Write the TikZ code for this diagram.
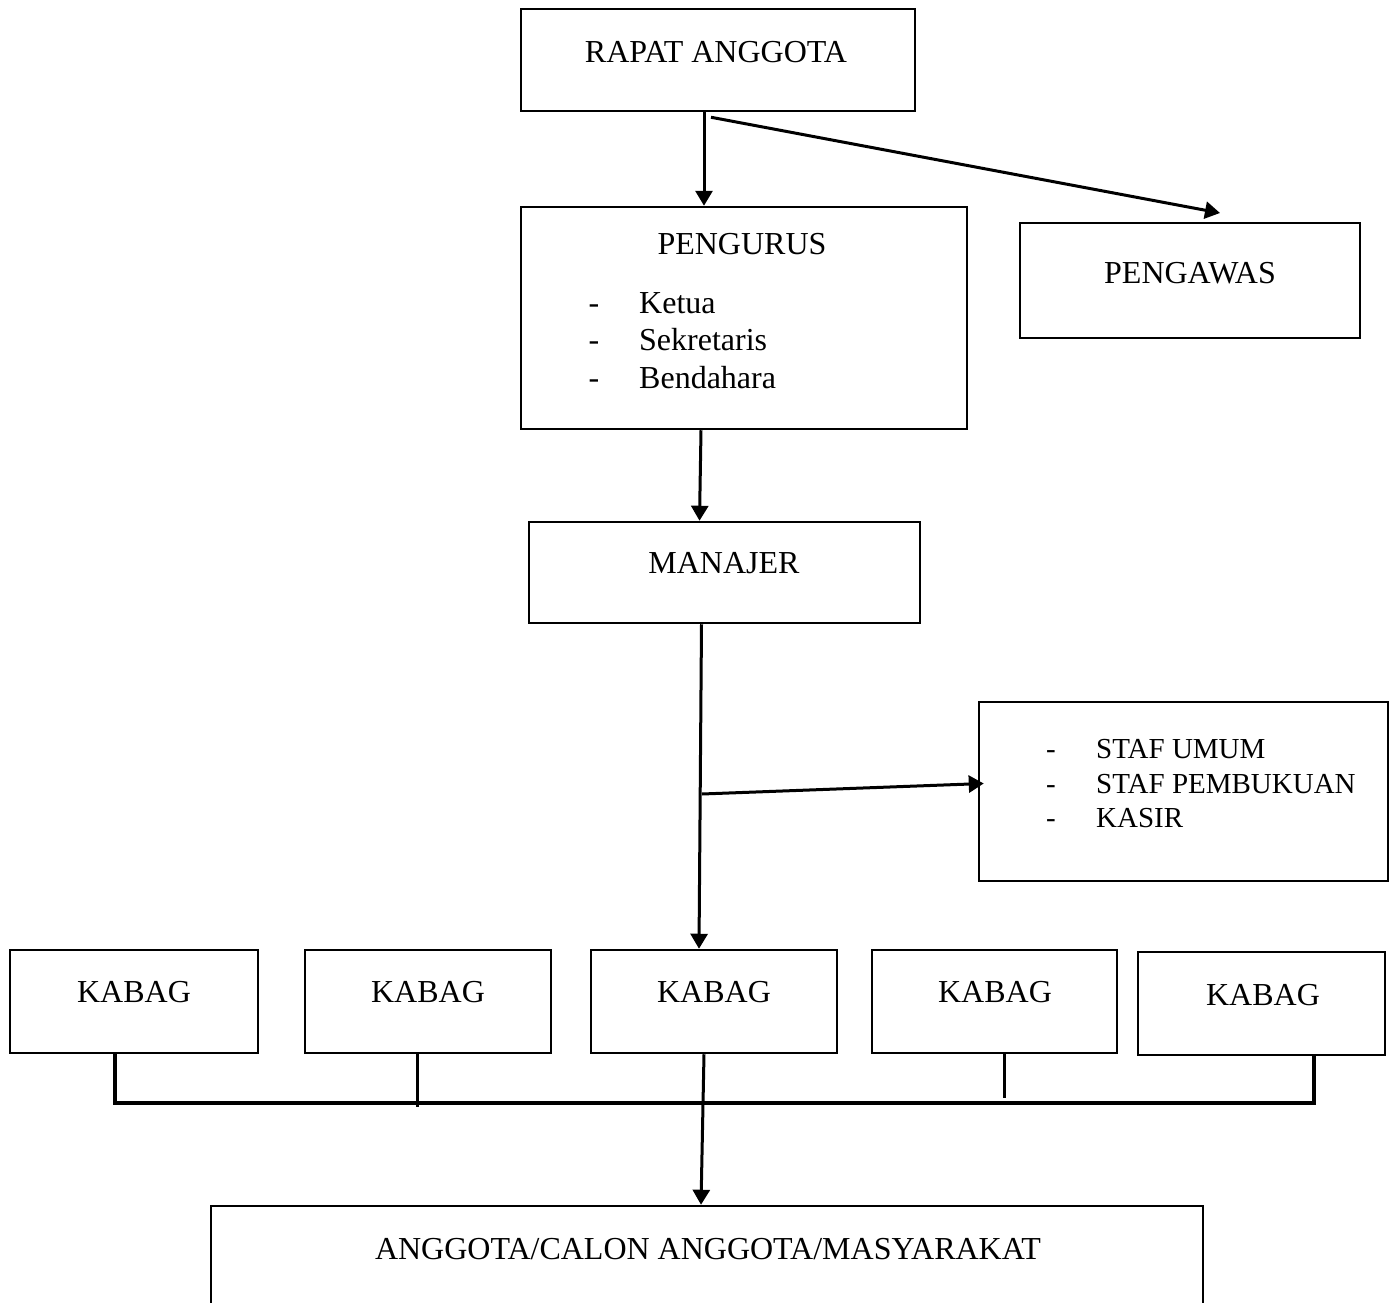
\documentclass[tikz,border=0pt]{standalone}
\usepackage{fontspec}
\setmainfont{Liberation Serif}
\usetikzlibrary{arrows.meta}

\tikzset{
  kotak/.style={draw, line width=2.5pt, inner sep=0pt},
  panah/.style={->, line width=3pt},
  garis/.style={line width=3pt},
  judul/.style={inner sep=0pt, font=\fontsize{32}{38}\selectfont},
  isi/.style={inner sep=0pt, font=\fontsize{29}{34}\selectfont}
}

\begin{document}
\begin{tikzpicture}[x=1pt,y=-1pt,>={Triangle[length=15pt,width=17pt]}]
\useasboundingbox (0,0) rectangle (1390,1303);
\clip (0,0) rectangle (1390,1303);

% kotak
\node[kotak,minimum width=394pt,minimum height=102pt] (rapat) at (718,60) {};
\node[kotak,minimum width=446pt,minimum height=222pt] (pengurus) at (744,318) {};
\node[kotak,minimum width=340pt,minimum height=115pt] (pengawas) at (1190,280.5) {};
\node[kotak,minimum width=391pt,minimum height=101pt] (manajer) at (724.5,572.5) {};
\node[kotak,minimum width=409pt,minimum height=179pt] (staf) at (1183.5,791.5) {};
\node[kotak,minimum width=248pt,minimum height=103pt] (kabag1) at (134,1001.5) {};
\node[kotak,minimum width=246pt,minimum height=103pt] (kabag2) at (428,1001.5) {};
\node[kotak,minimum width=246pt,minimum height=103pt] (kabag3) at (714,1001.5) {};
\node[kotak,minimum width=245pt,minimum height=103pt] (kabag4) at (994.5,1001.5) {};
\node[kotak,minimum width=247pt,minimum height=103pt] (kabag5) at (1261.5,1003.5) {};
\node[kotak,minimum width=992pt,minimum height=124pt] (anggota) at (707,1268) {};

% teks
\node[judul] (rapat-teks) at (716,52) {RAPAT ANGGOTA};
\node[judul] (pengurus-teks) at (742,244) {PENGURUS};
\node[judul,anchor=base] (strip1) at (594,313) {-};
\node[judul,anchor=base west] (ketua) at (639,313) {Ketua};
\node[judul,anchor=base] (strip2) at (594,350) {-};
\node[judul,anchor=base west] (sekretaris) at (639,350) {Sekretaris};
\node[judul,anchor=base] (strip3) at (594,388) {-};
\node[judul,anchor=base west] (bendahara) at (639,388) {Bendahara};
\node[judul] (pengawas-teks) at (1190,273) {PENGAWAS};
\node[judul] (manajer-teks) at (724,563) {MANAJER};
\node[isi,anchor=base] (strip4) at (1051,758) {-};
\node[isi,anchor=base west] (umum) at (1096,758) {STAF UMUM};
\node[isi,anchor=base] (strip5) at (1051,793) {-};
\node[isi,anchor=base west] (pembukuan) at (1096,793) {STAF PEMBUKUAN};
\node[isi,anchor=base] (strip6) at (1051,827) {-};
\node[isi,anchor=base west] (kasir) at (1096,827) {KASIR};
\node[judul] (kabag1-teks) at (134,992) {KABAG};
\node[judul] (kabag2-teks) at (428,992) {KABAG};
\node[judul] (kabag3-teks) at (714,992) {KABAG};
\node[judul] (kabag4-teks) at (995,992) {KABAG};
\node[judul] (kabag5-teks) at (1263,995) {KABAG};
\node[judul] (anggota-teks) at (708,1249) {ANGGOTA/CALON ANGGOTA/MASYARAKAT};

% panah
\coordinate (pengawas-tuju) at (1220,213);
\coordinate (cabang) at (702,794);
\draw[panah] ([xshift=-14pt]rapat.south) -- ([xshift=-40pt]pengurus.north);
\draw[panah] ([xshift=-7pt,yshift=-5pt]rapat.south) -- (pengawas-tuju);
\draw[panah] ([xshift=-43pt]pengurus.south) -- ([xshift=-25pt]manajer.north);
\draw[panah] ([xshift=-23pt]manajer.south) -- ([xshift=-15pt]kabag3.north);
\draw[panah] (cabang) -- ([xshift=6pt,yshift=8pt]staf.west);

% garis kabag
\coordinate (bus-kiri) at (115,1103);
\coordinate (bus-kanan) at (1314,1103);
\draw[garis,line width=3.5pt] (kabag1.south -| bus-kiri) |- (bus-kanan) -- (kabag5.south -| bus-kanan);
\draw[garis] ([xshift=-11pt]kabag2.south) -- ++(0,53);
\draw[garis] ([xshift=10pt]kabag4.south) -- ++(0,44);
\draw[panah] ([xshift=-10pt]kabag3.south) -- ([xshift=-6pt]anggota.north);
\end{tikzpicture}
\end{document}
